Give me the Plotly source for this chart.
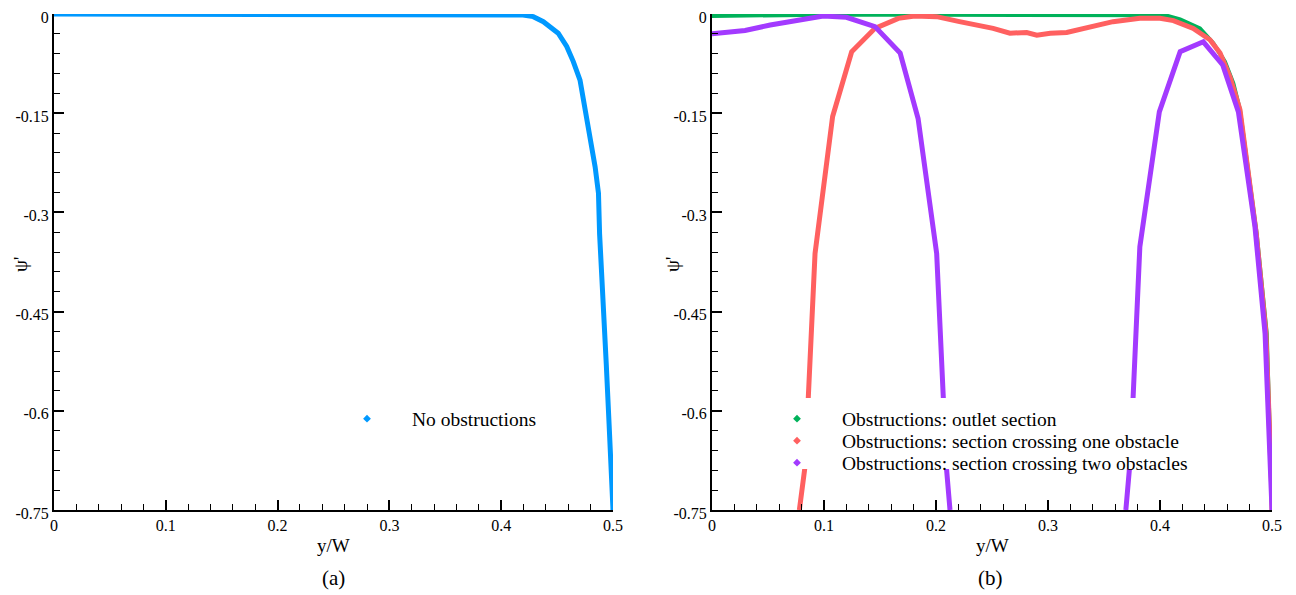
import plotly.graph_objects as go

# ---------------- data ----------------
x_ticks = [0, 0.1, 0.2, 0.3, 0.4, 0.5]
x_ticklabels = ["0", "0.1", "0.2", "0.3", "0.4", "0.5"]
y_ticks = [0, -0.15, -0.3, -0.45, -0.6, -0.75]
y_ticklabels = ["0", "-0.15", "-0.3", "-0.45", "-0.6", "-0.75"]

# (a) no obstructions
a_x = [0.0, 0.10, 0.20, 0.30, 0.39, 0.41, 0.4195, 0.4287, 0.4377, 0.451, 0.4586, 0.4645,
       0.4705, 0.484, 0.487, 0.488, 0.4913, 0.494, 0.4965, 0.4985, 0.5]
a_y = [0.0, 0.0, 0.0, 0.0, 0.0, -0.0005, -0.0015, -0.004, -0.0116, -0.029, -0.049, -0.072,
       -0.100, -0.231, -0.271, -0.332, -0.428, -0.53, -0.62, -0.70, -0.75]

# (b) outlet section
g_x = [0.0, 0.03, 0.06, 0.10, 0.20, 0.30, 0.39, 0.405, 0.418, 0.4357, 0.4476, 0.458, 0.4655,
       0.4714, 0.4863, 0.4953, 0.4997, 0.5]
g_y = [-0.003, -0.002, -0.001, -0.001, -0.001, -0.001, -0.001, -0.002, -0.008, -0.0217, -0.044,
       -0.072, -0.105, -0.145, -0.332, -0.483, -0.725, -0.75]

# (b) section crossing one obstacle
r_x = [0.078, 0.0786, 0.083, 0.086, 0.092, 0.1077, 0.1247, 0.1455, 0.1664, 0.181, 0.2006,
       0.221, 0.239, 0.251, 0.266, 0.281, 0.290, 0.302, 0.3167, 0.3375, 0.358, 0.382, 0.400,
       0.412, 0.4297, 0.4446, 0.4536, 0.4625, 0.4714, 0.4858, 0.4945, 0.4998, 0.5]
r_y = [-0.75, -0.740, -0.685, -0.579, -0.362, -0.155, -0.057, -0.0217, -0.0066, -0.003, -0.004,
       -0.0116, -0.018, -0.0217, -0.029, -0.028, -0.032, -0.029, -0.028, -0.020, -0.0116, -0.0066,
       -0.0066, -0.010, -0.0217, -0.039, -0.059, -0.095, -0.145, -0.33, -0.48, -0.72, -0.75]

# (b) section crossing two obstacles
p_x = [0.0, 0.0295, 0.052, 0.0786, 0.0994, 0.120, 0.1455, 0.168, 0.184, 0.2006, 0.2065,
       0.2095, 0.212, 0.2125, None, 0.3695, 0.370, 0.3726, 0.376, 0.382, 0.3994, 0.418,
       0.4387, 0.456, 0.470, 0.4848, 0.4938, 0.4997, 0.5]
p_y = [-0.030, -0.025, -0.0166, -0.008, -0.003, -0.005, -0.019, -0.059, -0.158, -0.362, -0.579,
       -0.690, -0.740, -0.75, None, -0.75, -0.740, -0.690, -0.579, -0.352, -0.148, -0.057,
       -0.042, -0.077, -0.148, -0.322, -0.483, -0.725, -0.75]

name_a = "No obstructions"
names_b = ["Obstructions: outlet section",
           "Obstructions: section crossing one obstacle",
           "Obstructions: section crossing two obstacles"]

BLUE = "rgb(0,153,255)"
GREEN = "rgb(0,178,90)"
RED = "rgb(255,96,96)"
PURPLE = "rgb(163,58,255)"

# page geometry (the page body adds an 8 px margin, compensated here)
W, H = 1296, 595
OFF = 8
T = 14 - OFF
B = H - (510 - OFF)
PH = H - T - B


def px(x):
    return (x - OFF) / W


def py(y):
    return ((510 - OFF) - (y - OFF)) / PH


SERIF = "Liberation Serif, Times New Roman, serif"

fig = go.Figure()

# panel a
fig.add_trace(go.Scatter(x=a_x, y=a_y, mode="lines", line=dict(color=BLUE, width=5),
                         showlegend=False, xaxis="x", yaxis="y"))
fig.add_trace(go.Scatter(x=[None], y=[None], mode="markers", name=name_a,
                         marker=dict(symbol="diamond", size=6, color=BLUE),
                         legend="legend", xaxis="x", yaxis="y"))

# panel b
for xs, ys, col, wd in [(g_x, g_y, GREEN, 4), (r_x, r_y, RED, 5), (p_x, p_y, PURPLE, 5)]:
    fig.add_trace(go.Scatter(x=xs, y=ys, mode="lines", line=dict(color=col, width=wd),
                             connectgaps=False, showlegend=False, xaxis="x2", yaxis="y2"))
for i, (nm, col) in enumerate(zip(names_b, [GREEN, RED, PURPLE])):
    fig.add_trace(go.Scatter(x=[None], y=[None], mode="markers", name=nm,
                             marker=dict(symbol="diamond", size=6, color=col),
                             legend="legend%d" % (i + 2), xaxis="x2", yaxis="y2"))

axis_common = dict(
    showgrid=False, zeroline=False, showline=True, linecolor="black", linewidth=2,
    ticks="inside", ticklen=10, tickwidth=1.5, tickcolor="black",
    tickfont=dict(family=SERIF, size=16, color="black"),
    mirror=False, automargin=False, ticklabeloverflow="allow",
)
xa = dict(axis_common, range=[0, 0.5], tickmode="array", tickvals=x_ticks, ticktext=x_ticklabels,
          minor=dict(ticks="inside", ticklen=6, tickwidth=1, tickcolor="black",
                     tickmode="linear", tick0=0, dtick=0.02))
ya = dict(axis_common, range=[-0.75, 0], tickmode="array", tickvals=y_ticks, ticktext=y_ticklabels,
          ticklabelshift=3,
          minor=dict(ticks="inside", ticklen=6, tickwidth=1, tickcolor="black",
                     tickmode="linear", tick0=0, dtick=0.03))

legend_common = dict(
    bgcolor="rgba(0,0,0,0)", borderwidth=0, itemwidth=80,
    font=dict(family=SERIF, size=19.5, color="black"),
    xanchor="left", yanchor="middle",
)

ann_common = dict(xref="paper", yref="paper", showarrow=False, xanchor="center", yanchor="middle")

fig.update_layout(
    template="none",
    width=W, height=H,
    margin=dict(l=0, r=0, t=T, b=B, pad=0),
    paper_bgcolor="white", plot_bgcolor="white",
    font=dict(family=SERIF, color="black"),
    xaxis=dict(xa, domain=[px(54), px(613)], anchor="y"),
    yaxis=dict(ya, domain=[0, 1], anchor="x"),
    xaxis2=dict(xa, domain=[px(712), px(1272)], anchor="y2"),
    yaxis2=dict(ya, domain=[0, 1], anchor="x2"),
    legend=dict(legend_common, x=px(322), y=py(419)),
    legend2=dict(legend_common, x=px(752), y=py(419)),
    legend3=dict(legend_common, x=px(752), y=py(441)),
    legend4=dict(legend_common, x=px(752), y=py(463)),
    shapes=[dict(type="rect", xref="paper", yref="paper", layer="above",
                 x0=px(775), x1=px(1200), y0=py(469), y1=py(398),
                 fillcolor="white", line=dict(width=0))],
    annotations=[
        dict(ann_common, text="y/W", x=px(333), y=py(545), font=dict(family=SERIF, size=19, color="black")),
        dict(ann_common, text="y/W", x=px(992), y=py(545), font=dict(family=SERIF, size=19, color="black")),
        dict(ann_common, text="(a)", x=px(333), y=py(578), font=dict(family=SERIF, size=21, color="black")),
        dict(ann_common, text="(b)", x=px(990), y=py(578), font=dict(family=SERIF, size=21, color="black")),
        dict(ann_common, text="ψ'", x=px(20), y=py(265), textangle=-90,
             font=dict(family=SERIF, size=19, color="black")),
        dict(ann_common, text="ψ'", x=px(672), y=py(265), textangle=-90,
             font=dict(family=SERIF, size=19, color="black")),
    ],
)

fig.write_html("out.html")
